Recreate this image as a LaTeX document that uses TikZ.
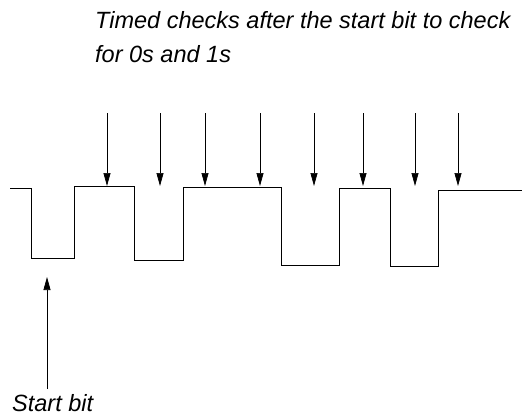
\documentclass[tikz,border=0pt]{standalone}
\usepackage{fontspec}
\setmainfont{Liberation Sans}
\usetikzlibrary{arrows.meta}
\begin{document}
\begin{tikzpicture}[x=1pt,y=-1pt,
  wave/.style={line width=0.8pt,line join=miter},
  probe/.style={line width=0.7pt,-{Triangle[length=13pt,width=7pt]}},
  caption/.style={font=\fontsize{23.5}{34}\selectfont\itshape,inner sep=0pt,anchor=base west,align=left}]
\useasboundingbox (0,0) rectangle (526,416);

% serial waveform: start bit followed by data bits
\draw[wave] (10,188) -- (31,188) -- (31,258) -- (74,258) -- (74,186)
  -- (134,186) -- (134,260) -- (183,260) -- (183,187)
  -- (281,187) -- (281,265) -- (339,265) -- (339,188)
  -- (390,188) -- (390,266) -- (438,266) -- (438,190) -- (522,190);

% sampling instants
\foreach \n/\x in {1/107,2/160,3/205,4/260,5/314,6/363,7/415,8/458}{
  \coordinate (t\n) at (\x,113);
  \coordinate (s\n) at (\x,186);
  \draw[probe] (t\n) -- (s\n);
}

\node[caption] (title) at (95,28) {Timed checks after the start bit to check};
\node[caption] (title2) at (95,62) {for 0s and 1s};

\node[caption] (start) at (12,411) {Start bit};
\coordinate (sb0) at (47,389);
\coordinate (sb1) at (47,277);
\draw[probe] (sb0) -- (sb1);
\end{tikzpicture}
\end{document}
